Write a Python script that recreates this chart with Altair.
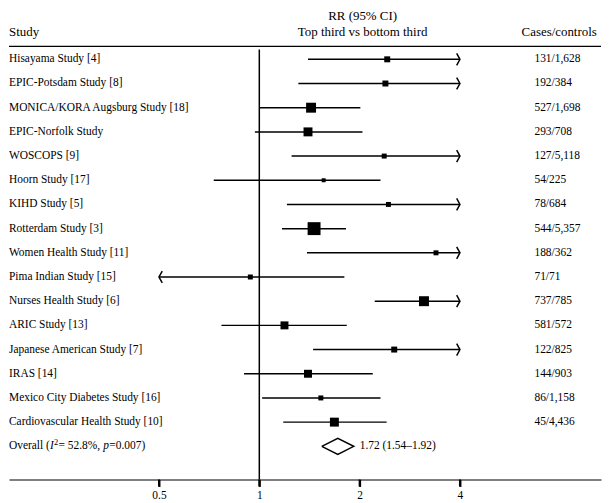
import altair as alt
import pandas as pd

studies = ["Hisayama Study [4]", "EPIC-Potsdam Study [8]", "MONICA/KORA Augsburg Study [18]",
           "EPIC-Norfolk Study", "WOSCOPS [9]", "Hoorn Study [17]", "KIHD Study [5]",
           "Rotterdam Study [3]", "Women Health Study [11]", "Pima Indian Study [15]",
           "Nurses Health Study [6]", "ARIC Study [13]", "Japanese American Study [7]",
           "IRAS [14]", "Mexico City Diabetes Study [16]", "Cardiovascular Health Study [10]"]
rr = [2.42, 2.39, 1.43, 1.40, 2.37, 1.56, 2.44, 1.46, 3.39, 0.94, 3.12, 1.19, 2.54, 1.40, 1.53, 1.68]
ci_low = [1.40, 1.31, 1.00, 0.97, 1.25, 0.73, 1.21, 1.17, 1.39, 0.45, 2.22, 0.77, 1.45, 0.90, 1.02, 1.18]
ci_high = [4.6, 4.4, 2.01, 2.04, 4.5, 2.31, 4.3, 1.82, 4.8, 1.80, 4.4, 1.83, 4.5, 2.19, 2.31, 2.41]
weights = [36, 36, 100, 81, 25, 16, 25, 169, 25, 25, 100, 64, 36, 64, 25, 81]
cases = ["131/1,628", "192/384", "527/1,698", "293/708", "127/5,118", "54/225", "78/684",
         "544/5,357", "188/362", "71/71", "737/785", "581/572", "122/825", "144/903",
         "86/1,158", "45/4,436"]
overall_est, overall_low, overall_high = 1.72, 1.54, 1.92
overall_label = "1.72 (1.54\u20131.92)"
tick_values = [0.5, 1, 2, 4]
axis_min, axis_max = 0.5, 4

FONT = "Liberation Serif"
FS = 11.5
HFS = 13
W, H = 596, 473

rows = list(range(len(studies)))
df = pd.DataFrame({
    "study": studies, "row": rows, "rr": rr, "lo": ci_low, "hi": ci_high,
    "w": weights, "cases": cases,
})
df["lo_c"] = df["lo"].clip(lower=axis_min)
df["hi_c"] = df["hi"].clip(upper=axis_max)

right_arrows = df[df["hi"] > axis_max]
left_arrows = df[df["lo"] < axis_min]

overall_row = len(studies)
h = 0.33
diamond = pd.DataFrame({
    "x": [overall_low, overall_est, overall_high, overall_est, overall_low],
    "row": [overall_row, overall_row - h, overall_row, overall_row + h, overall_row],
    "o": [0, 1, 2, 3, 4],
})
overall_df = pd.DataFrame({"row": [overall_row], "x": [overall_high]})
ticks_df = pd.DataFrame({"t": tick_values})

# row 0 at chart y=50, spacing 24.35 px
R0, DY = 50, 24.35
xscale = alt.Scale(type="log", base=2, domain=[0.1774, 10.60], nice=False, zero=False)
yscale = alt.Scale(domain=[-R0 / DY, (H - R0) / DY], reverse=True, nice=False, zero=False)

xaxis = alt.Axis(
    values=tick_values, title=None, grid=False, ticks=True, tickSize=7, tickWidth=2,
    tickColor="black", tickOpacity=1, domain=True,
    domainColor="black", domainWidth=1.2, labelFont=FONT, labelFontSize=FS,
    labelColor="black", labelPadding=3, labelFlush=False,
    labelExpr="datum.value == 0.5 ? '0.5' : format(datum.value, 'd')")
X = lambda f: alt.X(f, scale=xscale, axis=xaxis)
Y = lambda f: alt.Y(f, scale=yscale, axis=None)

base = alt.Chart(df)

bars = base.mark_rule(color="black", strokeWidth=1.5).encode(
    x=X("lo_c:Q"), x2="hi_c:Q", y=Y("row:Q"))
squares = base.mark_square(color="black", opacity=1).encode(
    x=X("rr:Q"), y=Y("row:Q"), size=alt.Size("w:Q", scale=None, legend=None))
rarrow = alt.Chart(right_arrows).mark_point(
    shape="M -0.55 -1 L 0 0 L -0.55 1", size=144, filled=False, color="black",
    strokeWidth=1.5, opacity=1).encode(x=X("hi_c:Q"), y=Y("row:Q"))
larrow = alt.Chart(left_arrows).mark_point(
    shape="M 0.55 -1 L 0 0 L 0.55 1", size=144, filled=False, color="black",
    strokeWidth=1.5, opacity=1).encode(x=X("lo_c:Q"), y=Y("row:Q"))
names = base.mark_text(align="left", baseline="middle", font=FONT, fontSize=FS, color="black").encode(
    x=alt.value(0), y=Y("row:Q"), text="study:N")
case_txt = base.mark_text(align="left", baseline="middle", font=FONT, fontSize=FS, color="black").encode(
    x=alt.value(529), y=Y("row:Q"), text="cases:N")
tick_marks = alt.Chart(ticks_df).mark_rule(color="black", strokeWidth=2, opacity=1).encode(
    x=X("t:Q"), y=alt.value(H), y2=alt.value(H + 7))

one = alt.Data(values=[{}])
refline = alt.Chart(one).mark_rule(color="black", strokeWidth=1.5).encode(
    x=alt.value(252), y=alt.value(40), y2=alt.value(H))
hline = alt.Chart(one).mark_rule(color="black", strokeWidth=1.2).encode(
    x=alt.value(0), x2=alt.value(W), y=alt.value(37))

def label(txt, x, y, align="left", size=HFS, style="normal"):
    return alt.Chart(one).mark_text(text=txt, align=align, baseline="middle", font=FONT,
                                    fontSize=size, fontStyle=style, color="black").encode(
        x=alt.value(x), y=alt.value(y))

headers = [
    label("RR (95% CI)", 356, 6, align="center"),
    label("Study", 0, 23),
    label("Top third vs bottom third", 356, 23, align="center"),
    label("Cases/controls", 516, 23),
]

diam = alt.Chart(diamond).mark_line(color="black", strokeWidth=1.5).encode(
    x=X("x:Q"), y=Y("row:Q"), order="o:Q")
ov_txt = alt.Chart(overall_df).mark_text(text=overall_label, align="left", baseline="middle",
                                         font=FONT, fontSize=FS, color="black", dx=6).encode(
    x=X("x:Q"), y=Y("row:Q"))

ov_parts = alt.Chart(overall_df)
def ovseg(txt, x, size=FS, style="normal", dy=0):
    return ov_parts.mark_text(text=txt, align="left", baseline="middle", font=FONT, fontSize=size,
                              fontStyle=style, color="black", dy=dy).encode(
        x=alt.value(x), y=Y("row:Q"))

overall_name = [
    ovseg("Overall (", 0),
    ovseg("I", 41.3, style="italic"),
    ovseg("2", 45.3, size=8.5, dy=-4),
    ovseg("= 52.8%,", 49.8),
    ovseg("p", 95, style="italic"),
    ovseg("=0.007)", 101),
]

chart = alt.layer(
    bars, refline, hline, tick_marks, squares, rarrow, larrow, names, case_txt, diam, ov_txt,
    *headers, *overall_name,
).properties(width=W, height=H, padding=0).configure_view(stroke=None)

chart.save("out.html", embed_options={"renderer": "svg", "actions": False})
